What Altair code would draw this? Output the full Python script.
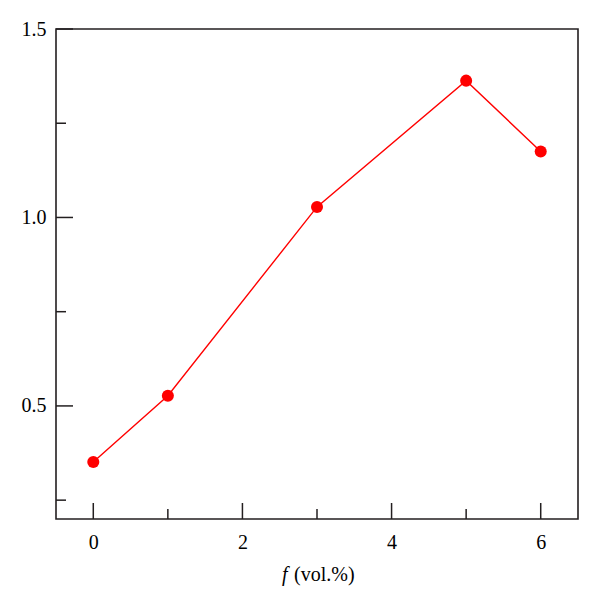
import altair as alt
import pandas as pd

# data
f_vals = [0, 1, 3, 5, 6]
y_vals = [0.351, 0.527, 1.028, 1.363, 1.175]

x_major = [0, 2, 4, 6]
x_minor = [1, 3, 5]
y_major = [0.5, 1.0, 1.5]
y_minor = [0.25, 0.75, 1.25]

W, H = 522, 490
FONT = "Liberation Serif"
INK = "#231f20"

df = pd.DataFrame({"f": f_vals, "y": y_vals})
xs = alt.Scale(domain=[-0.5, 6.5], nice=False, zero=False)
ys = alt.Scale(domain=[0.2, 1.5], nice=False, zero=False)

xaxis = alt.Axis(values=x_major, ticks=False, domain=False, grid=False,
                 labelPadding=13, labelFont=FONT, labelFontSize=20,
                 labelColor="black", format="d")
yaxis = alt.Axis(values=y_major, ticks=False, domain=False, grid=False,
                 labelPadding=10, labelFont=FONT, labelFontSize=20,
                 labelColor="black", format=".1f")

base = alt.Chart(df)
line = base.mark_line(color="#ff0000", strokeWidth=1.4).encode(
    x=alt.X("f:Q", scale=xs, title=None, axis=xaxis),
    y=alt.Y("y:Q", scale=ys, title=None, axis=yaxis),
)
pts = base.mark_circle(color="#ff0000", opacity=1, size=145).encode(
    x=alt.X("f:Q", scale=xs, title=None, axis=xaxis),
    y=alt.Y("y:Q", scale=ys, title=None, axis=yaxis),
)

def yticks(vals, length):
    return alt.Chart(pd.DataFrame({"v": vals})).mark_rule(color=INK, strokeWidth=1.5).encode(
        y=alt.Y("v:Q", scale=ys, title=None, axis=yaxis), x=alt.value(0), x2=alt.value(length)
    )

def xticks(vals, length):
    return alt.Chart(pd.DataFrame({"v": vals})).mark_rule(color=INK, strokeWidth=1.5).encode(
        x=alt.X("v:Q", scale=xs, title=None, axis=xaxis), y=alt.value(H), y2=alt.value(H - length)
    )

t_f = alt.Chart(pd.DataFrame({"t": ["f"]})).mark_text(
    font=FONT, fontSize=20, fontStyle="italic", align="left", baseline="alphabetic", color="black"
).encode(x=alt.value(226), y=alt.value(552), text="t:N")
t_u = alt.Chart(pd.DataFrame({"t": ["(vol.%)"]})).mark_text(
    font=FONT, fontSize=20, align="left", baseline="alphabetic", color="black"
).encode(x=alt.value(238), y=alt.value(552), text="t:N")

chart = alt.layer(
    line, pts,
    yticks(y_major, 17), yticks(y_minor, 10),
    xticks(x_major, 16), xticks(x_minor, 10),
    t_f, t_u
).properties(
    width=W, height=H,
    background="white",
    autosize=alt.AutoSizeParams(type="none"),
    padding={"left": 48, "top": 21, "right": 10, "bottom": 80},
).configure_view(stroke=INK, strokeWidth=1.6)

chart.save("out.html", embed_options={"renderer": "svg", "actions": False})
